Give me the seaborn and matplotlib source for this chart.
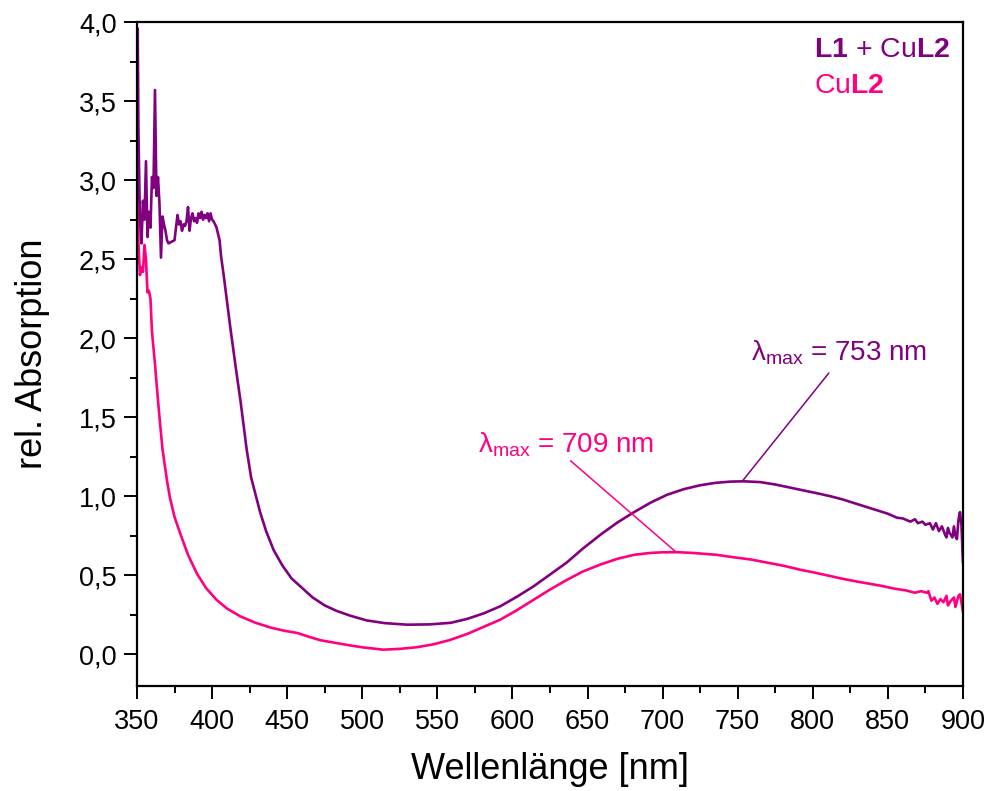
import pandas as pd
import matplotlib
matplotlib.use('Agg')
import matplotlib.pyplot as plt
import seaborn as sns

# L1 + CuL2 spectrum (wavelength in nm, relative absorption)
wl_mix = [350, 350.5, 351, 352, 353, 354, 355, 356, 357, 358, 359, 360, 361, 362, 363, 364,
          365, 366, 367, 368, 369, 370, 371, 373, 375, 377, 378, 379, 380, 381, 382, 383,
          384, 385, 386, 387, 388, 389, 390, 391, 392, 393, 394, 395, 396, 397, 398, 399,
          400, 401, 403, 405, 406, 408, 410, 412, 414, 416, 419, 421, 423, 426, 429, 432,
          436, 441, 447, 453, 460, 467, 475, 483, 492, 503, 515, 530, 545, 559, 570, 581,
          592, 603, 614, 625, 636, 647, 659, 670, 681, 692, 703, 714, 725, 735, 745, 754,
          765, 775, 785, 795, 805, 812, 820, 830, 840, 850, 856, 860, 865, 868, 870, 873,
          875, 878, 880, 882, 884, 886, 888, 889, 890, 891, 893, 894, 895, 896, 897, 898,
          899, 900]
abs_mix = [2.85, 3.96, 3.30, 2.75, 2.60, 2.87, 2.75, 3.12, 2.64, 2.80, 2.70, 3.02, 2.95, 3.57, 2.90, 3.02,
           2.85, 2.51, 2.77, 2.72, 2.68, 2.62, 2.60, 2.61, 2.62, 2.78, 2.72, 2.74, 2.68, 2.72, 2.71, 2.74,
           2.83, 2.68, 2.76, 2.79, 2.74, 2.76, 2.73, 2.79, 2.76, 2.80, 2.75, 2.78, 2.76, 2.79, 2.74, 2.79,
           2.75, 2.74, 2.70, 2.62, 2.52, 2.38, 2.23, 2.08, 1.94, 1.80, 1.60, 1.45, 1.30, 1.12, 1.01, 0.90,
           0.78, 0.66, 0.56, 0.48, 0.42, 0.36, 0.31, 0.275, 0.245, 0.215, 0.198, 0.188, 0.19, 0.20, 0.225, 0.26,
           0.305, 0.365, 0.43, 0.505, 0.58, 0.67, 0.76, 0.835, 0.90, 0.96, 1.01, 1.045, 1.07, 1.085, 1.093, 1.095,
           1.09, 1.075, 1.055, 1.035, 1.015, 1.00, 0.98, 0.95, 0.92, 0.89, 0.865, 0.86, 0.84, 0.855, 0.83, 0.84,
           0.82, 0.83, 0.79, 0.83, 0.78, 0.81, 0.76, 0.74, 0.80, 0.77, 0.74, 0.81, 0.75, 0.73, 0.85, 0.90,
           0.82, 0.58]

# CuL2 spectrum
wl_cu = [350, 351, 352, 353, 354, 355, 356, 357, 358, 359, 360, 362, 363, 365, 367, 370,
         372, 375, 379, 384, 390, 396, 403, 410, 419, 429, 439, 448, 457, 465, 472, 481,
         490, 500, 514, 525, 536, 547, 558, 570, 581, 592, 603, 614, 625, 636, 647, 659,
         670, 681, 692, 700, 709, 720, 736, 747, 759, 770, 781, 792, 800, 812, 819, 830,
         845, 855, 862, 868, 872, 876, 877, 879, 881, 883, 885, 887, 889, 890, 892, 894,
         895, 897, 898, 899, 900]
abs_cu = [3.00, 2.60, 2.40, 2.45, 2.42, 2.59, 2.50, 2.29, 2.30, 2.25, 2.04, 1.84, 1.72, 1.50, 1.30, 1.10,
          0.99, 0.87, 0.76, 0.63, 0.51, 0.42, 0.345, 0.29, 0.24, 0.20, 0.17, 0.15, 0.135, 0.11, 0.09, 0.075,
          0.06, 0.045, 0.03, 0.035, 0.045, 0.063, 0.09, 0.13, 0.175, 0.22, 0.28, 0.345, 0.41, 0.47, 0.525, 0.57,
          0.605, 0.63, 0.642, 0.646, 0.647, 0.642, 0.63, 0.615, 0.60, 0.58, 0.56, 0.535, 0.52, 0.495, 0.48, 0.46,
          0.435, 0.415, 0.405, 0.39, 0.40, 0.39, 0.40, 0.34, 0.36, 0.32, 0.35, 0.33, 0.37, 0.31, 0.34, 0.36,
          0.30, 0.37, 0.38, 0.33, 0.27]

purple = '#800080'
pink = '#FF0080'

sns.set_style('ticks')
plt.rcParams['font.family'] = ['Liberation Sans', 'DejaVu Sans']
plt.rcParams['mathtext.fontset'] = 'custom'
plt.rcParams['mathtext.rm'] = 'Liberation Sans'
plt.rcParams['mathtext.it'] = 'Liberation Sans:italic'
plt.rcParams['mathtext.bf'] = 'Liberation Sans:bold'

df_mix = pd.DataFrame({'wl': wl_mix, 'A': abs_mix})
df_cu = pd.DataFrame({'wl': wl_cu, 'A': abs_cu})

fig = plt.figure(figsize=(9.91, 7.91), dpi=100)
ax = fig.add_axes([0.1382, 0.1327, 0.8335, 0.8394])

sns.lineplot(data=df_cu, x='wl', y='A', color=pink, lw=1.9, estimator=None, sort=False, ax=ax)
sns.lineplot(data=df_mix, x='wl', y='A', color=purple, lw=1.9, estimator=None, sort=False, ax=ax)

ax.set_xlim(350, 900)
ax.set_ylim(-0.2, 4.0)
ax.set_xticks(range(350, 901, 50))
ax.set_xticks(range(375, 900, 50), minor=True)
ax.set_yticks([0, 0.5, 1.0, 1.5, 2.0, 2.5, 3.0, 3.5, 4.0])
ax.set_yticks([0.25, 0.75, 1.25, 1.75, 2.25, 2.75, 3.25, 3.75], minor=True)
ax.set_yticklabels(['0,0', '0,5', '1,0', '1,5', '2,0', '2,5', '3,0', '3,5', '4,0'])

ax.tick_params(axis='both', which='major', direction='out', length=9.5, width=1.4,
               labelsize=19.5, color='black', labelcolor='black')
ax.tick_params(axis='both', which='minor', direction='out', length=5, width=1.4, color='black')
ax.tick_params(axis='x', which='major', pad=7)
ax.tick_params(axis='y', which='major', pad=5)
for s in ax.spines.values():
    s.set_linewidth(1.6)
    s.set_color('black')

ax.set_xlabel('Wellenlänge [nm]', fontsize=26, labelpad=12, color='black')
ax.set_ylabel('rel. Absorption', fontsize=26, labelpad=21, color='black')

# legend-like labels
ax.text(0.8196, 0.9478, r'$\mathbf{L1}$ + Cu$\mathbf{L2}$', color=purple, fontsize=20.5,
        transform=ax.transAxes, va='baseline', ha='left')
ax.text(0.8196, 0.8935, r'Cu$\mathbf{L2}$', color=pink, fontsize=20.5,
        transform=ax.transAxes, va='baseline', ha='left')

# lambda max annotations
ax.annotate('', xy=(753, 1.095), xytext=(810.7, 1.78),
            arrowprops=dict(arrowstyle='-', color=purple, lw=1.1, shrinkA=0, shrinkB=0))
ax.text(758.7, 1.86, r'$\mathrm{\lambda_{max}}$ = 753 nm', color=purple, fontsize=20,
        va='baseline', ha='left')
ax.annotate('', xy=(709, 0.647), xytext=(638.7, 1.225),
            arrowprops=dict(arrowstyle='-', color=pink, lw=1.1, shrinkA=0, shrinkB=0))
ax.text(577.3, 1.278, r'$\mathrm{\lambda_{max}}$ = 709 nm', color=pink, fontsize=20,
        va='baseline', ha='left')

plt.savefig('out.png', dpi=100)
